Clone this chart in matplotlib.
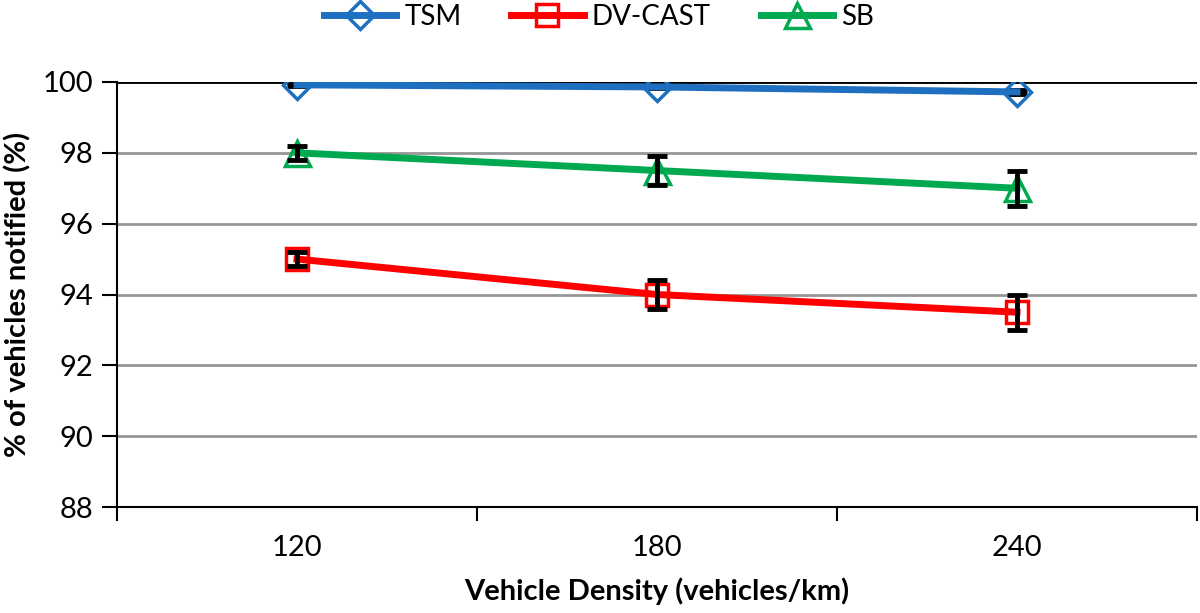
import numpy as np
import matplotlib.pyplot as plt

plt.rcParams['font.family'] = ['Lato', 'DejaVu Sans']

# data
densities = ['120', '180', '240']
tsm = [99.92, 99.86, 99.72]
tsm_err = [0.04, 0.04, 0.05]
dvcast = [95.0, 94.0, 93.5]
dvcast_err = [0.2, 0.4, 0.5]
sb = [98.0, 97.5, 97.0]
sb_err = [0.2, 0.4, 0.5]

x = np.arange(len(densities))

fig = plt.figure(figsize=(12, 6.13), dpi=100)
ax = fig.add_axes([117 / 1200, 1 - 507 / 613, (1197 - 117) / 1200, (507 - 82) / 613])

series = [
    ('TSM', tsm, tsm_err, '#1f6fc0', 'D', 14, 2),
    ('DV-CAST', dvcast, dvcast_err, '#ff0000', 's', 16, 4),
    ('SB', sb, sb_err, '#00a94f', '^', 18, 4),
]
for name, vals, err, col, mk, ms, ez in series:
    ax.plot(x, vals, color=col, lw=5, marker=mk, ms=ms, mfc='none',
            mec=col, mew=2.5, label=name, zorder=3)
    ax.errorbar(x, vals, yerr=err, fmt='none', ecolor='black', elinewidth=3.5,
                capsize=7, capthick=3.5, zorder=ez)

ax.set_xlim(-0.5, 2.5)
ax.set_ylim(88, 100)
ax.set_yticks(np.arange(88, 101, 2))
ax.set_xticks(x)
ax.set_xticklabels(densities)
ax.set_xticks(np.arange(-0.5, 2.6, 1), minor=True)
ax.tick_params(axis='x', which='major', length=0, pad=20, labelsize=21)
ax.tick_params(axis='x', which='minor', length=10, width=1.5, direction='out')
ax.tick_params(axis='y', length=11, width=1.5, direction='out', labelsize=21, pad=6)

ax.yaxis.grid(True, color='#969696', lw=2)
ax.set_axisbelow(True)
for s in ['top', 'right']:
    ax.spines[s].set_visible(False)
for s in ['left', 'bottom']:
    ax.spines[s].set_linewidth(1.5)
ax.axhline(100, color='black', lw=2, zorder=1)

ax.set_xlabel('Vehicle Density (vehicles/km)', fontsize=21, fontweight='bold', labelpad=12)
ax.set_ylabel('% of vehicles notified (%)', fontsize=21, fontweight='bold', labelpad=8)

fig.legend(*ax.get_legend_handles_labels(), loc='center',
           bbox_to_anchor=(599 / 1200, 1 - 17 / 613), ncol=3, frameon=False,
           fontsize=20, handlelength=2.6, columnspacing=1.8, handletextpad=0.3,
           borderpad=0)

fig.savefig('out.png', dpi=100)
